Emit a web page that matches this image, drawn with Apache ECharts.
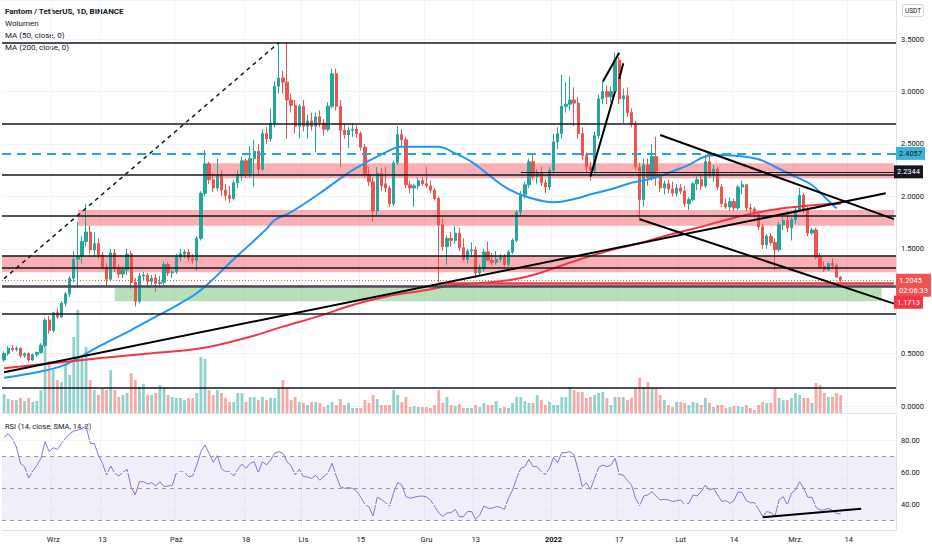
<!DOCTYPE html>
<html><head><meta charset="utf-8">
<script src="https://cdn.jsdelivr.net/npm/echarts@6/dist/echarts.min.js"></script>
<style>html,body{margin:0;padding:0;background:#fff}#c{width:932px;height:550px}</style>
</head><body><div id="c"></div>
<script>
// ---------- DATA ----------
const startDate = '2021-08-20';   // first category
const categoryCount = 218;        // daily categories incl. empty future days
// daily candles [open, high, low, close] from 2021-08-20 to 2022-03-12
const candles = [
[0.44,0.52,0.42,0.50],[0.50,0.57,0.48,0.55],[0.55,0.58,0.52,0.54],[0.54,0.57,0.52,0.55],[0.55,0.56,0.46,0.48],
[0.48,0.51,0.46,0.50],[0.50,0.51,0.42,0.44],[0.44,0.50,0.43,0.49],[0.49,0.52,0.47,0.51],[0.51,0.60,0.50,0.58],
[0.58,0.84,0.56,0.82],[0.82,0.86,0.69,0.72],
[0.72,0.90,0.70,0.89],[0.89,0.93,0.83,0.85],[0.85,1.00,0.84,0.98],[0.98,1.09,0.95,1.07],[1.07,1.24,1.04,1.22],
[1.22,1.48,1.18,1.40],[1.40,1.76,1.13,1.43],[1.43,1.62,1.36,1.57],[1.57,1.93,1.52,1.66],[1.66,1.72,1.45,1.49],
[1.49,1.66,1.42,1.55],[1.55,1.60,1.40,1.44],[1.44,1.47,1.30,1.32],[1.32,1.36,1.14,1.21],[1.21,1.50,1.19,1.46],
[1.46,1.50,1.28,1.31],[1.31,1.35,1.22,1.26],[1.26,1.33,1.22,1.30],[1.30,1.50,1.25,1.45],[1.45,1.48,1.12,1.18],
[1.18,1.22,0.95,1.00],[1.00,1.27,0.98,1.24],[1.24,1.28,1.19,1.25],[1.25,1.27,1.13,1.19],[1.19,1.25,1.15,1.22],
[1.22,1.26,1.09,1.17],[1.17,1.24,1.13,1.18],[1.18,1.38,1.16,1.35],[1.35,1.37,1.24,1.27],[1.27,1.30,1.22,1.28],
[1.28,1.45,1.26,1.42],[1.42,1.50,1.38,1.45],[1.45,1.49,1.41,1.47],[1.47,1.50,1.38,1.41],[1.41,1.45,1.36,1.39],
[1.39,1.62,1.29,1.60],[1.60,2.05,1.58,2.03],[2.03,2.44,2.00,2.31],[2.31,2.33,2.12,2.16],[2.16,2.22,2.04,2.08],
[2.08,2.36,2.05,2.20],[2.20,2.25,2.00,2.06],[2.06,2.12,1.96,2.01],[2.01,2.10,1.94,1.98],[1.98,2.16,1.96,2.13],
[2.13,2.25,2.08,2.20],[2.20,2.38,2.15,2.34],[2.34,2.36,2.18,2.22],[2.22,2.48,2.18,2.36],[2.36,2.54,2.09,2.43],
[2.43,2.50,2.20,2.26],[2.26,2.64,2.24,2.60],[2.60,2.66,2.50,2.55],[2.55,2.84,2.52,2.70],[2.70,3.10,2.66,3.05],
[3.05,3.466,2.98,3.13],[3.13,3.20,2.98,3.09],[3.09,3.47,2.55,2.92],[2.92,2.98,2.80,2.87],[2.87,2.92,2.60,2.67],
[2.67,2.88,2.55,2.86],
[2.86,2.92,2.62,2.67],[2.67,2.78,2.55,2.72],[2.72,2.80,2.63,2.67],[2.67,2.80,2.42,2.76],[2.76,2.82,2.66,2.70],
[2.70,2.74,2.58,2.64],[2.64,2.90,2.62,2.86],[2.86,3.22,2.84,3.17],[3.17,3.22,2.82,2.86],[2.86,2.92,2.28,2.63],
[2.63,2.70,2.55,2.59],[2.59,2.66,2.46,2.63],[2.63,2.70,2.57,2.64],[2.64,2.68,2.56,2.60],[2.60,2.62,2.44,2.47],
[2.47,2.50,2.18,2.21],[2.21,2.28,2.10,2.14],[2.14,2.18,1.76,1.86],[1.86,2.28,1.82,2.22],[2.22,2.27,2.05,2.10],
[2.12,2.28,2.04,2.08],[2.08,2.10,1.90,1.93],[1.93,2.34,1.91,2.32],[2.32,2.67,2.30,2.59],[2.59,2.64,2.48,2.54],
[2.54,2.57,2.08,2.11],[2.11,2.15,2.03,2.08],[2.08,2.12,1.90,2.10],[2.10,2.18,2.07,2.15],[2.15,2.18,2.10,2.12],
[2.12,2.28,2.08,2.10],[2.10,2.15,2.03,2.06],[2.06,2.08,1.96,1.98],[1.98,2.00,1.18,1.73],[1.73,1.80,1.48,1.52],
[1.52,1.63,1.35,1.60],[1.60,1.66,1.52,1.58],[1.58,1.72,1.55,1.65],[1.65,1.70,1.48,1.51],[1.51,1.60,1.38,1.40],
[1.40,1.50,1.36,1.48],[1.48,1.56,1.42,1.49],[1.49,1.52,1.23,1.27],[1.27,1.35,1.24,1.31],[1.31,1.50,1.28,1.47],
[1.47,1.57,1.38,1.39],[1.39,1.46,1.34,1.37],[1.37,1.48,1.35,1.40],[1.40,1.45,1.37,1.42],[1.42,1.45,1.33,1.35],
[1.35,1.49,1.33,1.47],[1.47,1.60,1.45,1.58],[1.58,1.87,1.56,1.85],[1.85,2.05,1.82,2.02],[2.02,2.14,1.98,2.11],
[2.11,2.36,2.08,2.33],[2.33,2.40,2.16,2.19],[2.19,2.26,2.12,2.22],[2.22,2.28,2.10,2.13],[2.13,2.16,2.03,2.09],
[2.09,2.28,2.06,2.25],
[2.25,2.60,2.22,2.52],[2.52,2.66,2.45,2.60],[2.60,3.16,2.55,2.86],[2.86,3.09,2.80,2.88],[2.88,3.14,2.82,2.92],
[2.92,3.04,2.67,2.89],[2.89,2.95,2.55,2.60],[2.60,2.66,2.35,2.39],[2.39,2.42,2.22,2.28],[2.28,2.33,2.15,2.25],
[2.25,2.62,2.22,2.58],[2.58,2.97,2.55,2.93],[2.93,3.09,2.88,3.00],[3.00,3.06,2.88,2.95],[2.95,3.05,2.90,3.00],
[3.00,3.37,2.97,3.30],[3.30,3.33,2.88,2.93],[2.93,3.03,2.70,2.96],[2.96,3.04,2.76,2.80],[2.80,2.84,2.66,2.69],
[2.69,2.72,2.25,2.28],[2.28,2.32,1.77,1.97],[1.97,2.36,1.90,2.30],[2.30,2.36,2.10,2.18],[2.18,2.50,2.15,2.38],
[2.38,2.57,2.10,2.19],[2.19,2.22,2.04,2.08],[2.08,2.15,2.02,2.12],[2.12,2.16,2.03,2.07],[2.07,2.14,2.00,2.03],
[2.03,2.12,2.00,2.08],
[2.08,2.12,2.02,2.05],[2.05,2.10,1.90,1.93],[1.93,1.99,1.87,1.97],[1.97,2.14,1.95,2.12],[2.12,2.19,2.06,2.16],
[2.16,2.22,2.06,2.10],[2.10,2.40,2.08,2.33],[2.33,2.40,2.18,2.21],[2.21,2.30,2.14,2.26],[2.26,2.28,2.06,2.09],
[2.09,2.12,1.90,1.93],[1.93,1.98,1.88,1.90],[1.90,1.99,1.86,1.95],[1.95,1.98,1.86,1.89],[1.89,2.11,1.87,2.09],
[2.09,2.15,2.02,2.11],[2.11,2.12,1.86,1.89],[1.89,1.93,1.84,1.88],[1.88,1.90,1.80,1.83],[1.83,1.85,1.68,1.71],
[1.71,1.74,1.50,1.54],[1.54,1.64,1.50,1.62],[1.62,1.65,1.53,1.56],[1.56,1.60,1.30,1.49],[1.49,1.76,1.47,1.73],
[1.73,1.80,1.68,1.77],[1.77,1.86,1.66,1.70],[1.70,1.80,1.58,1.78],
[1.78,1.90,1.74,1.87],[1.87,2.08,1.85,2.01],[2.01,2.03,1.84,1.87],[1.87,1.90,1.62,1.65],[1.65,1.70,1.63,1.68],
[1.68,1.70,1.40,1.42],[1.42,1.46,1.31,1.33],[1.33,1.38,1.28,1.30],[1.30,1.37,1.29,1.36],[1.36,1.41,1.31,1.34],
[1.34,1.36,1.22,1.23],[1.23,1.24,1.18,1.2045]
];
// daily volume (relative units, same days as candles)
const volume = [
19,14,13,13,15,12,15,11,12,23,93,52,
43,33,31,48,38,76,103,58,66,33,23,18,25,23,43,23,16,18,20,40,33,26,29,18,18,20,28,26,18,16,
15,15,13,15,15,20,56,54,23,18,23,20,15,11,11,20,20,11,16,16,13,16,13,15,15,25,33,25,13,16,11,
10,8,11,11,10,6,8,11,8,14,8,10,5,5,5,13,10,18,14,8,8,8,23,18,11,16,6,7,6,6,
6,5,8,23,10,16,8,7,9,5,5,5,8,6,10,8,8,12,5,6,5,10,16,16,12,10,10,18,13,8,11,
8,8,16,16,26,23,21,21,15,16,18,20,21,15,8,16,16,16,13,15,25,35,26,31,25,25,18,13,8,6,11,
11,10,8,11,10,8,15,10,6,8,8,5,6,7,7,6,8,5,3,8,11,10,10,25,15,13,13,15,
20,18,15,15,10,30,28,20,16,16,20,18
];
// RSI(14) daily values
const rsi = [
82.1,84.4,81.3,76.2,65.8,63.7,56.5,60.9,64.5,68.9,79.4,73.1,
75.6,74.6,78.3,81.7,84.4,86.1,86.7,87.8,89.2,78.3,78.3,71.0,65.8,58.4,64.1,59.5,57.8,60.1,62.0,50.7,
45.9,54.2,54.2,52.8,53.6,51.5,54.2,51.1,51.5,51.9,
59.5,60.5,60.1,57.4,57.8,64.7,73.1,77.3,72.1,66.4,70.6,62.6,60.5,60.5,57.8,62.0,65.3,62.6,65.8,66.8,
59.9,66.8,64.7,67.9,72.1,73.1,72.1,66.8,64.3,58.4,62.0,
57.4,57.2,56.3,58.2,55.1,57.6,59.9,65.8,57.8,51.1,50.0,50.5,50.0,48.2,44.4,40.0,38.3,32.6,44.4,43.1,
41.0,38.9,47.3,53.8,52.1,44.8,43.8,44.4,45.0,45.2,
44.6,42.7,38.7,34.5,32.4,34.5,34.7,36.8,32.2,32.2,35.4,35.4,30.5,33.3,38.9,37.5,37.5,38.5,38.1,36.8,
43.8,49.0,56.3,62.6,63.7,68.3,63.7,63.7,60.5,58.8,62.6,
69.5,66.2,72.5,72.5,73.1,71.0,61.6,51.1,53.6,49.4,56.3,63.2,64.7,63.7,64.7,68.9,58.8,58.4,54.9,52.1,
43.8,38.9,45.2,45.9,48.0,45.2,42.7,43.1,42.7,41.7,42.3,
42.7,39.6,40.6,45.9,45.2,48.0,52.1,49.0,50.0,45.9,41.7,42.3,40.6,42.3,47.9,47.3,42.3,41.0,41.0,36.8,
32.2,35.4,34.7,32.6,42.7,44.8,39.6,46.9,
49.0,54.2,50.0,44.4,44.4,38.1,36.4,36.4,37.5,36.0,34.3,33.9
];
// moving averages: day index (from startDate) and value
const ma50Day = [0,9,14,18,23,31,37,43,48,56,64,66,70,77,85,93,97,106,109,114,118,123,128,134,139,144,148,153,158,165,167,171,175,179,184,188,193,197,200,203];
const ma50 = [0.27,0.33,0.38,0.455,0.566,0.725,0.852,0.98,1.107,1.40,1.69,1.775,1.85,2.03,2.25,2.42,2.474,2.474,2.43,2.33,2.21,2.07,1.99,1.945,1.975,2.03,2.068,2.13,2.17,2.268,2.30,2.38,2.395,2.385,2.354,2.283,2.188,2.109,1.997,1.886];
const ma200Day = [0,11,23,36,48,60,68,77,85,93,103,109,115,123,129,134,140,148,155,162,170,179,187,195,201,204];
const ma200 = [0.36,0.405,0.455,0.503,0.55,0.661,0.757,0.86,0.964,1.043,1.107,1.15,1.17,1.20,1.25,1.314,1.393,1.489,1.553,1.632,1.711,1.806,1.87,1.908,1.927,1.93];
// x-axis tick labels
const tickDates = ['2021-09-01','2021-09-13','2021-10-01','2021-10-18','2021-11-01','2021-11-15','2021-12-01','2021-12-13','2022-01-01','2022-01-17','2022-02-01','2022-02-14','2022-03-01','2022-03-14'];
const tickLabels = ['Wrz','13','Paź','18','Lis','15','Gru','13','2022','17','Lut','14','Mrz.','14'];
// drawn levels
const blackLevels = [3.467, 2.69, 2.213, 1.816, 1.425, 1.323, 0.875, 0.175];
const supportLevel = 1.135;
const cyanLevel = 2.4057;
const blackLabelLevel = 2.2344, blackLabelFrom = 126;
const lastPrice = 1.2045, countdown = '02:06:33';
const redLevel = 1.1713, redLevelFrom = 106;
// zones: [fromDay or null, toDay or null, top, bottom]
const pinkZones = [[49,217,2.316,2.173],[18,217,1.870,1.720],[null,null,1.434,1.276]];
const greenZone = [27,214,1.129,1.002];
// trend lines: [[day, price],[day, price]]
const trendSolid = [[[0,0.322],[215,2.03]], [[160,2.586],[217,1.783]], [[155,1.782],[217,0.977]],
                    [[143,2.19],[149,3.00]], [[146,3.095],[150,3.37]], [[150,3.12],[151,3.27]]];
const trendDashed = [[0,1.215],[67,3.467]];
const rsiTrend = [[185,31.9],[209,37.2]];
const rsiTickValues = [40, 60, 80];

// ---------- CHART ----------
const UP = '#26a69a', DOWN = '#ef5350';
const FONT = 'Roboto, "Liberation Sans", sans-serif';
const TXT = '#131722';
const dates = [];
{ const t0 = Date.parse(startDate + 'T00:00:00Z');
  for (let i = 0; i < categoryCount; i++) dates.push(new Date(t0 + i * 86400000).toISOString().slice(0, 10)); }
const isTick = (i, v) => tickDates.indexOf(typeof v === 'string' ? v : dates[i]) >= 0;

const chart = echarts.init(document.getElementById('c'), null, {renderer: 'svg'});

function xAxis(gi, labels) {
  return {
    type: 'category', gridIndex: gi, data: dates, boundaryGap: true,
    axisLine: {show: gi !== 0, lineStyle: {color: '#e0e3eb', width: 1}},
    axisTick: {show: false},
    axisLabel: labels ? {
      show: true, interval: isTick, margin: 5, fontSize: 7.5, fontFamily: FONT, color: TXT,
      formatter: v => { const k = tickDates.indexOf(v); if (k < 0) return ''; return tickLabels[k] === '2022' ? '{b|2022}' : tickLabels[k]; },
      rich: {b: {fontWeight: 'bold', fontSize: 7.5, fontFamily: FONT, color: TXT}}
    } : {show: false},
    splitLine: {show: true, interval: isTick, lineStyle: {color: '#f0f3fa', width: 1}}
  };
}
const seg = (pts, gi, style) => ({
  type: 'line', xAxisIndex: gi, yAxisIndex: gi, data: pts, showSymbol: false, symbol: 'none',
  silent: true, z: 6, lineStyle: style, animation: false
});
const lbl = (text, bg, fg, off) => ({
  show: true, position: 'end', distance: 0, formatter: text, backgroundColor: bg, color: fg,
  padding: [2, 3, 1, 3], fontSize: 7.5, fontFamily: FONT, lineHeight: 10, offset: off || [0, 0]
});
const noLbl = {show: false};

const markLines = blackLevels.map(v => ({yAxis: v, lineStyle: {color: TXT, width: 1.5, type: 'solid'}, label: noLbl}));
markLines.push({yAxis: supportLevel, lineStyle: {color: '#434651', width: 2.5, type: 'solid'}, label: noLbl});
markLines.push({yAxis: cyanLevel, lineStyle: {color: '#26a8cc', width: 2, type: [9, 6]}, label: lbl(cyanLevel.toFixed(4), '#3cb4d2', TXT)});
markLines.push({yAxis: lastPrice, lineStyle: {color: DOWN, width: 1, type: [1, 2]}, label: lbl(lastPrice.toFixed(4) + '\n' + countdown, DOWN, '#fff', [0, 5])});
markLines.push([{coord: [dates[blackLabelFrom], blackLabelLevel], lineStyle: {color: TXT, width: 1, type: 'solid'}, label: lbl(blackLabelLevel.toFixed(4), TXT, '#fff')},
                {coord: [dates[categoryCount - 1], blackLabelLevel]}]);
markLines.push([{coord: [dates[redLevelFrom], redLevel], lineStyle: {color: '#f23645', width: 2.5, type: 'solid'}, label: lbl(redLevel.toFixed(4), '#f23645', '#fff', [0, 19])},
                {coord: [dates[redLevelFrom], redLevel]}]);
markLines[markLines.length - 1][1] = {coord: [dates[categoryCount - 1], redLevel]};

const PINK = 'rgba(242,54,69,0.40)', GREEN = 'rgba(76,175,80,0.40)';
const areas = pinkZones.map(z => z[0] === null
  ? [{yAxis: z[2], itemStyle: {color: PINK}}, {yAxis: z[3]}]
  : [{xAxis: dates[z[0]], yAxis: z[2], itemStyle: {color: PINK}}, {xAxis: dates[z[1]], yAxis: z[3]}]);
areas.push([{xAxis: dates[greenZone[0]], yAxis: greenZone[2], itemStyle: {color: GREEN}}, {xAxis: dates[greenZone[1]], yAxis: greenZone[3]}]);

const series = [
  {
    type: 'candlestick', xAxisIndex: 0, yAxisIndex: 0, z: 3, barWidth: 2.8,
    data: candles.map(r => [r[0], r[3], r[2], r[1]]),
    itemStyle: {color: UP, color0: DOWN, borderColor: UP, borderColor0: DOWN, borderWidth: 1},
    markArea: {silent: true, z: 1, data: areas},
    markLine: {silent: true, symbol: ['none', 'none'], z: 5, animation: false, data: markLines}
  },
  {type: 'line', xAxisIndex: 0, yAxisIndex: 0, z: 4, smooth: 0.4, showSymbol: false, symbol: 'none', silent: true,
   data: ma50Day.map((d, i) => [d, ma50[i]]), lineStyle: {color: '#2196f3', width: 2}},
  {type: 'line', xAxisIndex: 0, yAxisIndex: 0, z: 4, smooth: 0.4, showSymbol: false, symbol: 'none', silent: true,
   data: ma200Day.map((d, i) => [d, ma200[i]]), lineStyle: {color: '#f23645', width: 2}},
  seg(trendDashed, 0, {color: TXT, width: 1.5, type: [4, 4]}),
  ...trendSolid.map(t => seg(t, 0, {color: '#000', width: 2})),
  {
    type: 'bar', xAxisIndex: 1, yAxisIndex: 1, barWidth: 2.8, silent: true,
    data: volume.map((v, i) => ({value: v, itemStyle: {color: candles[i][3] >= candles[i][0] ? 'rgba(38,166,154,0.5)' : 'rgba(239,83,80,0.5)'}}))
  },
  {
    type: 'line', xAxisIndex: 2, yAxisIndex: 2, data: rsi, showSymbol: false, symbol: 'none', silent: true, z: 4,
    lineStyle: {color: '#8a74cc', width: 1},
    markArea: {silent: true, data: [[{yAxis: 70, itemStyle: {color: 'rgba(126,87,194,0.1)'}}, {yAxis: 30}]]},
    markLine: {silent: true, symbol: ['none', 'none'], label: noLbl, data: [
      ...rsiTickValues.map(v => ({yAxis: v, lineStyle: {color: '#f0f3fa', width: 1, type: 'solid'}})),
      ...[70, 50, 30].map(v => ({yAxis: v, lineStyle: {color: '#9598a1', width: 1, type: [4, 4]}}))
    ]}
  },
  seg(rsiTrend, 2, {color: '#000', width: 2})
];

chart.setOption({
  animation: false,
  backgroundColor: '#fff',
  textStyle: {fontFamily: FONT},
  grid: [
    {left: 2, right: 36, top: 0, height: 406, outerBoundsMode: 'none'},
    {left: 2, right: 36, top: 310, height: 103, outerBoundsMode: 'none'},
    {left: 2, right: 36, top: 415, height: 115, outerBoundsMode: 'none'}
  ],
  xAxis: [xAxis(0, false), xAxis(1, false), xAxis(2, true)],
  yAxis: [
    {type: 'value', gridIndex: 0, position: 'right', min: 0, max: 3.874, interval: 0.5,
     axisLine: {show: true, lineStyle: {color: '#e0e3eb'}}, axisTick: {show: false},
     axisLabel: {color: TXT, fontSize: 7.5, fontFamily: FONT, margin: 5, showMaxLabel: false,
       formatter: v => (Math.abs(v - 1) < 1e-9 || v > 3.6) ? '' : v.toFixed(4)},
     splitLine: {show: true, lineStyle: {color: '#f0f3fa', width: 1}}},
    {type: 'value', gridIndex: 1, show: false, min: 0, max: 'dataMax'},
    {type: 'value', gridIndex: 2, position: 'right', min: 23.8, max: 96.2,
     axisLine: {show: true, lineStyle: {color: '#e0e3eb'}}, axisTick: {show: false},
     axisLabel: {customValues: rsiTickValues, color: TXT, fontSize: 7.5, fontFamily: FONT, margin: 5,
       formatter: v => rsiTickValues.indexOf(Math.round(v)) >= 0 ? Number(v).toFixed(2) : ''},
     splitLine: {show: false}}
  ],
  series: series,
  graphic: [
    {type: 'text', left: 5, top: 7, silent: true, style: {text: 'Fantom / TetherUS, 1D, BINANCE', fill: TXT, fontSize: 8, fontWeight: 'bold', fontFamily: FONT}},
    {type: 'text', left: 5, top: 19, silent: true, style: {text: 'Wolumen', fill: TXT, fontSize: 8, fontFamily: FONT}},
    {type: 'text', left: 5, top: 31, silent: true, style: {text: 'MA (50, close, 0)', fill: TXT, fontSize: 8, fontFamily: FONT}},
    {type: 'text', left: 5, top: 43, silent: true, style: {text: 'MA (200, close, 0)', fill: TXT, fontSize: 8, fontFamily: FONT}},
    {type: 'text', left: 5, top: 422, silent: true, style: {text: 'RSI (14, close, SMA, 14, 2)', fill: TXT, fontSize: 7.5, fontFamily: FONT}},
    {type: 'group', left: 902, top: 4, silent: true, children: [
      {type: 'rect', shape: {x: 0, y: 0, width: 21, height: 12, r: 2}, style: {fill: '#fff', stroke: '#d1d4dc', lineWidth: 1}},
      {type: 'text', x: 10.5, y: 6.5, style: {text: 'USDT', fill: TXT, fontSize: 6.5, fontFamily: FONT, align: 'center', verticalAlign: 'middle'}}
    ]}
  ]
});
</script></body></html>
